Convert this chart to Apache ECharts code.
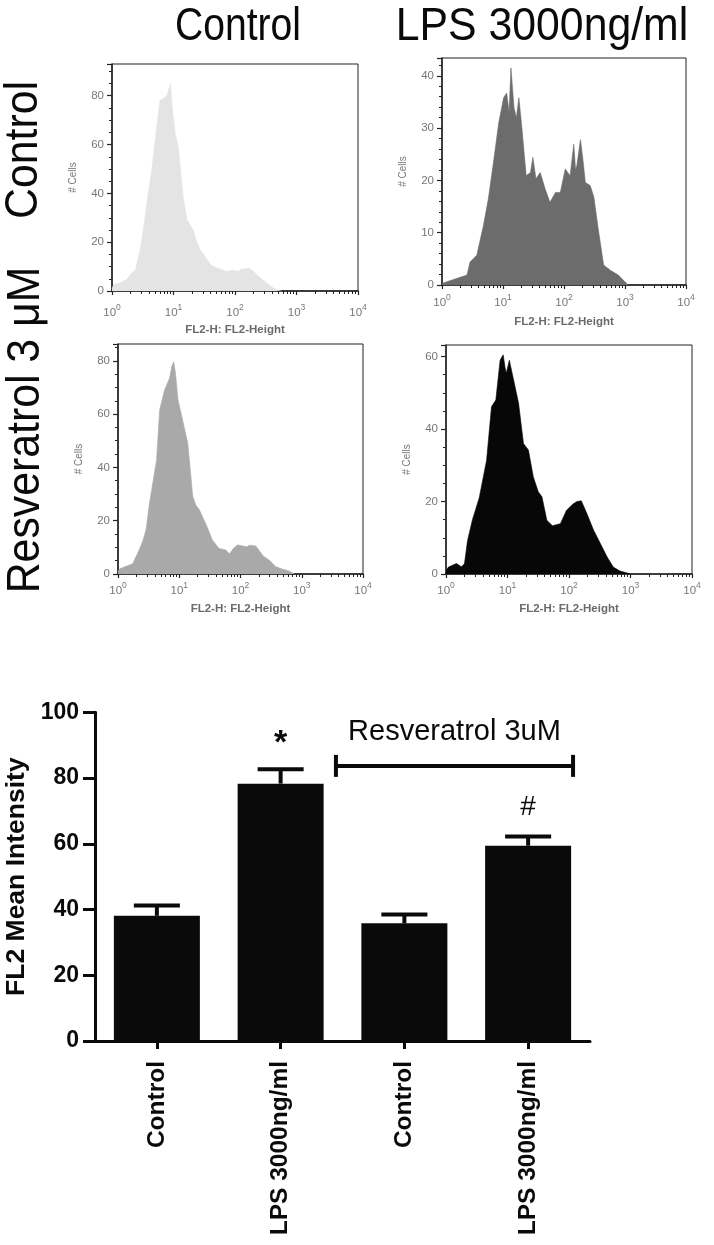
<!DOCTYPE html>
<html><head><meta charset="utf-8">
<script src="https://cdn.jsdelivr.net/npm/echarts@6/dist/echarts.min.js"></script>
<style>html,body{margin:0;padding:0;background:#fff}#c{width:714px;height:1245px}</style>
</head><body><div id="c"></div>
<script>
// ---------- data ----------
const colTitles = ['Control', 'LPS 3000ng/ml'];
const rowTitles = ['Control', 'Resveratrol 3 μM'];
const histXName = 'FL2-H: FL2-Height';
const histYName = '# Cells';

// histogram 1: Control / Control  (x = log10 FL2 decade, y = # cells)
const h1Exp   = [0.00,0.03,0.15,0.24,0.32,0.38,0.41,0.46,0.52,0.57,0.65,0.72,0.78,0.84,0.89,0.93,0.95,0.98,1.03,1.08,1.12,1.16,1.22,1.27,1.32,1.38,1.43,1.49,1.54,1.60,1.65,1.76,1.86,1.97,2.05,2.11,2.18,2.22,2.30,2.41,2.51,2.62,2.68,2.75];
const h1Cells = [1,2.7,3.5,4.7,7.4,8.5,9,17,27,37,50,66,78,79,80,83,85,75,64,59,48,38,29,27,25,20,17,15,13,11,10,9,8,8.5,8,9,9,9.5,8,5.4,3.4,1.3,0.3,0];
// histogram 2: LPS / Control
const h2Exp   = [0.00,0.03,0.25,0.41,0.46,0.57,0.68,0.76,0.85,0.93,1.01,1.06,1.10,1.13,1.16,1.18,1.22,1.26,1.31,1.38,1.45,1.49,1.54,1.61,1.69,1.77,1.86,1.94,2.02,2.10,2.16,2.19,2.21,2.27,2.31,2.35,2.43,2.49,2.56,2.65,2.76,2.89,3.00,3.05];
const h2Cells = [0.3,0.6,1.3,1.9,4.4,5.7,11.4,16.5,24,31,35.8,36.7,33,41.5,37,33.9,32,35.8,30,20.9,21.5,24.4,20.3,21.5,18.4,15.8,17.7,17.7,22.2,20.9,26.9,22,22.8,27.8,24,19.6,19,16.8,10.8,3.8,2.8,1.9,0.6,0];
// histogram 3: Control / Resveratrol
const h3Exp   = [0.00,0.03,0.24,0.35,0.41,0.46,0.51,0.54,0.63,0.68,0.76,0.84,0.88,0.91,0.94,0.98,1.06,1.14,1.22,1.27,1.33,1.44,1.54,1.65,1.76,1.82,1.88,1.95,2.04,2.10,2.15,2.25,2.37,2.48,2.57,2.69,2.74,2.80,2.88];
const h3Cells = [1,2,3.8,9.3,12.8,16.8,26,26.7,42.9,61.6,69,73.4,78,79.6,75,65.3,57.2,49,29.2,25.9,24,18.5,12.8,9.6,9,7.5,9.5,10.9,10.5,10.2,10.8,10.5,6.8,5,2.8,1.8,1.5,1,0];
// histogram 4: LPS / Resveratrol
const h4Exp   = [0.00,0.04,0.17,0.25,0.30,0.35,0.43,0.54,0.66,0.74,0.81,0.88,0.93,0.96,0.98,1.03,1.10,1.18,1.26,1.34,1.42,1.50,1.56,1.64,1.73,1.86,1.96,2.07,2.13,2.20,2.29,2.40,2.51,2.62,2.72,2.83,2.92,3.00];
const h4Cells = [1,1.9,2.9,2,2.8,9.2,15,21,31.4,46.2,48,59,60.5,57,55.4,59,53.5,47.1,36,34.2,26.8,22.7,21.3,14.8,13.3,13.9,17.6,19.4,20,20.2,16.7,12.1,8.4,4.7,1.9,0.8,0.4,0];

const histExp   = [h1Exp, h2Exp, h3Exp, h4Exp];
const histCells = [h1Cells, h2Cells, h3Cells, h4Cells];
const histMax   = [93, 43.4, 86.3, 63.2];
const histTickStep = [20, 10, 20, 20];
const histColors = ['#e4e4e4', '#6c6c6c', '#a9a9a9', '#070707'];

// bar chart
const barCategories = ['Control', 'LPS 3000ng/ml', 'Control', 'LPS 3000ng/ml'];
const barMeans = [38.1, 78.3, 35.8, 59.4];
const barSem   = [3.1, 4.4, 2.7, 2.8];
const barYName = 'FL2 Mean Intensity';
const sigLabels = ['', '*', '', '#'];
const sigY      = [null, 92.2, null, 71.0];
const groupLabel = 'Resveratrol 3uM';
const groupFrom = 2, groupTo = 3, groupY = 83.7, groupLabelY = 94.1;

// ---------- layout ----------
const histGrids = [
  {left:112, top:64,  width:246, height:227},
  {left:442, top:58,  width:244, height:227},
  {left:118, top:344, width:245, height:230},
  {left:446, top:345, width:246, height:229}
];
const histNameGap = [33, 31, 29, 29];
const histLabelMargin = [12, 8, 7, 7];
const FONT = "'Liberation Sans', Arial, Helvetica, sans-serif";
const grids = histGrids.map(g => Object.assign({show:true, borderColor:'#222', borderWidth:1, backgroundColor:'transparent', outerBoundsMode:'none', containLabel:false}, g));
grids.push({left:95, top:712.3, width:495, height:328.7, show:false, outerBoundsMode:'none', containLabel:false});

const xAxes = [], yAxes = [], series = [];
histGrids.forEach((g, i) => {
  xAxes.push({
    type:'log', logBase:10, min:1, max:10000, gridIndex:i,
    name: histXName, nameLocation:'middle', nameGap:histNameGap[i],
    nameTextStyle:{color:'#6a6a6a', fontSize:11.5, fontFamily:FONT, fontWeight:'bold'},
    axisLine:{lineStyle:{color:'#222', width:1.5}},
    axisTick:{show:true, length:4, lineStyle:{color:'#222', width:1.2}},
    minorTick:{show:true, splitNumber:9, length:3, lineStyle:{color:'#222', width:1}},
    splitLine:{show:false}, minorSplitLine:{show:false},
    axisLabel:{margin:histLabelMargin[i], color:'#777', fontFamily:FONT,
      formatter: v => '{b|10}{s|' + Math.round(Math.log10(v)) + '}',
      rich:{ b:{fontSize:11.5, color:'#777', fontFamily:FONT, verticalAlign:'bottom'},
             s:{fontSize:8.5, color:'#777', fontFamily:FONT, verticalAlign:'bottom', padding:[0,0,7,0]} } }
  });
  yAxes.push({
    type:'value', min:0, max:histMax[i], interval:histTickStep[i], gridIndex:i,
    name: histYName, nameLocation:'middle', nameGap:34,
    nameTextStyle:{color:'#777', fontSize:10, fontFamily:FONT},
    axisLine:{show:true, lineStyle:{color:'#222', width:1.5}},
    axisTick:{show:true, length:5, lineStyle:{color:'#222', width:1.2}},
    minorTick:{show:true, splitNumber: histTickStep[i] === 10 ? 5 : 4, length:3, lineStyle:{color:'#222', width:1}},
    splitLine:{show:false},
    axisLabel:{margin:8, color:'#777', fontSize:11.5, fontFamily:FONT, showMaxLabel:false}
  });
  series.push({
    type:'line', xAxisIndex:i, yAxisIndex:i, symbol:'none', smooth:false,
    data: histExp[i].map((e, k) => [Math.pow(10, e), histCells[i][k]]),
    lineStyle:{width:0.6, color:histColors[i]},
    areaStyle:{color:histColors[i], opacity:1},
    z:1
  });
});

// bar chart axes
xAxes.push({
  type:'category', gridIndex:4, data:barCategories,
  axisLine:{lineStyle:{color:'#0a0a0a', width:3}},
  axisTick:{show:true, alignWithLabel:true, length:8, lineStyle:{color:'#0a0a0a', width:3}},
  axisLabel:{rotate:90, margin:20, color:'#0a0a0a', fontSize:24.5, fontWeight:'bold', fontFamily:FONT}
});
yAxes.push({
  type:'value', gridIndex:4, min:0, max:100, interval:20,
  name: barYName, nameLocation:'middle', nameGap:64,
  nameTextStyle:{color:'#0a0a0a', fontSize:26.5, fontWeight:'bold', fontFamily:FONT},
  axisLine:{show:true, lineStyle:{color:'#0a0a0a', width:3}},
  axisTick:{show:true, length:12, lineStyle:{color:'#0a0a0a', width:3}},
  splitLine:{show:false},
  axisLabel:{margin:16, color:'#0a0a0a', fontSize:23, fontWeight:'bold', fontFamily:FONT}
});
series.push({
  type:'bar', xAxisIndex:4, yAxisIndex:4, data:barMeans, barWidth:'69.5%',
  itemStyle:{color:'#0a0a0a'}, z:2
});
series.push({
  type:'custom', xAxisIndex:4, yAxisIndex:4, z:3,
  data: barMeans.map((m, i) => [i, m, m + barSem[i]]),
  renderItem: (params, api) => {
    const base = api.coord([api.value(0), api.value(1)]);
    const top = api.coord([api.value(0), api.value(2)]);
    const half = api.size([1, 0])[0] * 0.186;
    const st = {stroke:'#0a0a0a', lineWidth:4};
    return {type:'group', children:[
      {type:'line', shape:{x1:base[0], y1:base[1], x2:top[0], y2:top[1]}, style:st},
      {type:'line', shape:{x1:top[0]-half, y1:top[1], x2:top[0]+half, y2:top[1]}, style:st}
    ]};
  }
});
series.push({
  type:'custom', xAxisIndex:4, yAxisIndex:4, z:4,
  data: sigY.map((y, i) => [i, y === null ? 0 : y]),
  renderItem: (params, api) => {
    const lab = sigLabels[params.dataIndex];
    if (!lab) return null;
    const p = api.coord([api.value(0), api.value(1)]);
    const isStar = lab === '*';
    return {type:'text', x:p[0], y:p[1] + (isStar ? 6 : 0),
      style:{text:lab, fill:'#0a0a0a', textAlign:'center', textVerticalAlign:'middle',
             font:(isStar ? 'bold 34px ' : '28px ') + FONT}};
  }
});
series.push({
  type:'custom', xAxisIndex:4, yAxisIndex:4, z:4,
  data: [[groupFrom, groupTo, groupY, groupLabelY]],
  renderItem: (params, api) => {
    const bw = api.size([1, 0])[0];
    const a = api.coord([api.value(0), api.value(2)]);
    const b = api.coord([api.value(1), api.value(2)]);
    const t = api.coord([api.value(0), api.value(3)]);
    const x1 = a[0] - bw * 0.553, x2 = b[0] + bw * 0.363, y = a[1];
    const st = {stroke:'#0a0a0a', lineWidth:4};
    return {type:'group', children:[
      {type:'line', shape:{x1:x1, y1:y, x2:x2, y2:y}, style:st},
      {type:'line', shape:{x1:x1, y1:y-11, x2:x1, y2:y+11}, style:st},
      {type:'line', shape:{x1:x2, y1:y-11, x2:x2, y2:y+11}, style:st},
      {type:'text', x:(x1+x2)/2, y:t[1], style:{text:groupLabel, fill:'#0a0a0a', textAlign:'center', textVerticalAlign:'middle', font:'29px ' + FONT}}
    ]};
  }
});

// titles (row / column labels)
const graphics = [
  {type:'text', x:238, y:27, scaleX:0.85, style:{text:colTitles[0], font:'46px ' + FONT, fill:'#0a0a0a', textAlign:'center', textVerticalAlign:'middle'}},
  {type:'text', x:542, y:27, scaleX:0.93, style:{text:colTitles[1], font:'46px ' + FONT, fill:'#0a0a0a', textAlign:'center', textVerticalAlign:'middle'}},
  {type:'text', x:24, y:150, rotation:Math.PI/2, scaleX:0.93, style:{text:rowTitles[0], font:'46px ' + FONT, fill:'#0a0a0a', textAlign:'center', textVerticalAlign:'middle'}},
  {type:'text', x:26, y:430, rotation:Math.PI/2, scaleX:0.93, style:{text:rowTitles[1], font:'46px ' + FONT, fill:'#0a0a0a', textAlign:'center', textVerticalAlign:'middle'}}
];

const chart = echarts.init(document.getElementById('c'), null, {renderer:'canvas'});
chart.setOption({
  animation:false, backgroundColor:'#fff',
  grid:grids, xAxis:xAxes, yAxis:yAxes, series:series, graphic:graphics
});
</script></body></html>
